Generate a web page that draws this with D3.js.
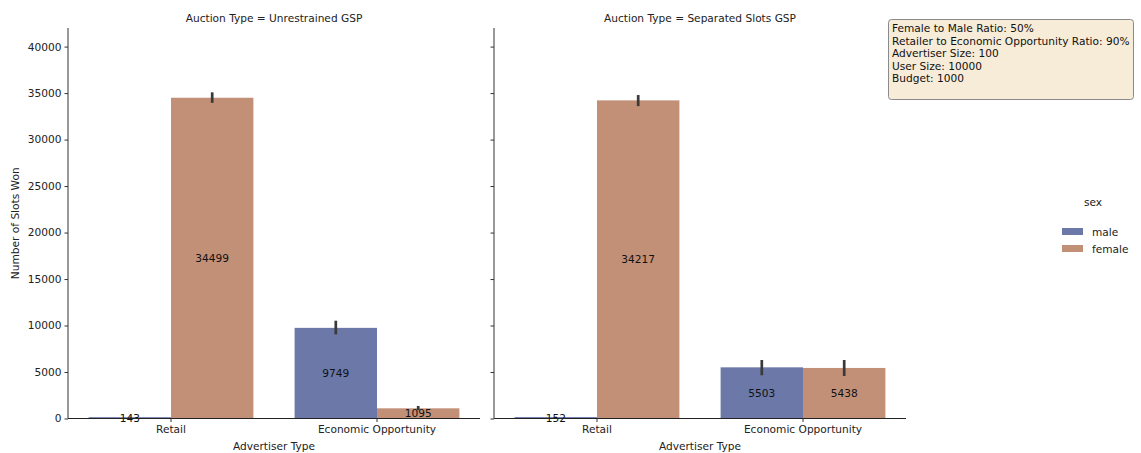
<!DOCTYPE html>
<html>
<head>
<meta charset="utf-8">
<script src="https://cdn.jsdelivr.net/npm/d3@7"></script>
<style>
  body { margin: 0; background: #fff; }
  svg { font-family: "DejaVu Sans", sans-serif; }
</style>
</head>
<body>
<svg id="chart" width="1141" height="453"></svg>
<script>
// Facets, categories and hue levels
const auctionTypes = ["Unrestrained GSP", "Separated Slots GSP"];
const advertiserTypes = ["Retail", "Economic Opportunity"];
const sexes = ["male", "female"];

// Mean slots won per facet: [Retail, Economic Opportunity] for each sex
const maleUnrestrained = [143, 9749];
const femaleUnrestrained = [34499, 1095];
const maleSeparated = [152, 5503];
const femaleSeparated = [34217, 5438];

// Confidence interval bounds [low, high]
const maleUnrestrainedCI = [[100, 190], [9050, 10520]];
const femaleUnrestrainedCI = [[33950, 35080], [900, 1350]];
const maleSeparatedCI = [[110, 195], [4650, 6290]];
const femaleSeparatedCI = [[33600, 34790], [4570, 6290]];

const yTicks = [0, 5000, 10000, 15000, 20000, 25000, 30000, 35000, 40000];
const yMax = 42000;

const infoLines = [
  "Female to Male Ratio: 50%",
  "Retailer to Economic Opportunity Ratio: 90%",
  "Advertiser Size: 100",
  "User Size: 10000",
  "Budget: 1000"
];

const colors = { male: "#6b78a8", female: "#c29077" };
const fs = 10.6;

const facetData = [
  { title: auctionTypes[0], male: maleUnrestrained, female: femaleUnrestrained,
    maleCI: maleUnrestrainedCI, femaleCI: femaleUnrestrainedCI },
  { title: auctionTypes[1], male: maleSeparated, female: femaleSeparated,
    maleCI: maleSeparatedCI, femaleCI: femaleSeparatedCI }
];

const svg = d3.select("#chart");
const panelLeft = [68, 494];
const panelWidth = 412;
const plotTop = 28, plotBottom = 418.5;

const y = d3.scaleLinear().domain([0, yMax]).range([plotBottom, plotTop]);

facetData.forEach((f, i) => {
  const g = svg.append("g").attr("transform", `translate(${panelLeft[i]},0)`);
  const x = d3.scaleBand().domain(advertiserTypes).range([0, panelWidth]).paddingInner(0).paddingOuter(0);
  const xs = d3.scaleBand().domain(sexes).range([0, x.bandwidth() * 0.8]);

  const rows = [];
  advertiserTypes.forEach((cat, ci) => {
    sexes.forEach(s => {
      rows.push({ cat, sex: s, value: f[s][ci], ci: f[s + "CI"][ci] });
    });
  });

  const barX = d => x(d.cat) + x.bandwidth() * 0.1 + xs(d.sex);

  g.selectAll("rect.bar").data(rows).join("rect")
    .attr("class", "bar")
    .attr("x", barX)
    .attr("width", xs.bandwidth())
    .attr("y", d => y(d.value))
    .attr("height", d => y(0) - y(d.value))
    .attr("fill", d => colors[d.sex]);

  g.selectAll("line.err").data(rows).join("line")
    .attr("class", "err")
    .attr("x1", d => barX(d) + xs.bandwidth() / 2)
    .attr("x2", d => barX(d) + xs.bandwidth() / 2)
    .attr("y1", d => y(d.ci[0]))
    .attr("y2", d => y(d.ci[1]))
    .attr("stroke", "#3a3a3a")
    .attr("stroke-width", 2.7);

  g.selectAll("text.val").data(rows).join("text")
    .attr("class", "val")
    .attr("x", d => barX(d) + xs.bandwidth() / 2)
    .attr("y", d => y(d.value / 2))
    .attr("dy", "0.35em")
    .attr("text-anchor", "middle")
    .attr("font-size", fs)
    .attr("fill", "#111")
    .text(d => d.value);

  // Axes
  const yAxis = d3.axisLeft(y).tickValues(yTicks).tickSize(3.5).tickPadding(3)
    .tickFormat(i === 0 ? d3.format("d") : () => "");
  const ya = g.append("g").call(yAxis);
  ya.select(".domain").attr("d", `M0,${plotTop}V${plotBottom}`).attr("stroke", "#333");
  ya.selectAll("text").attr("font-size", fs).attr("fill", "#222").attr("font-family", "DejaVu Sans");
  ya.selectAll("line").attr("stroke", "#333");

  const xAxis = d3.axisBottom(x).tickSize(3.5).tickPadding(3.5);
  const xa = g.append("g").attr("transform", `translate(0,${plotBottom})`).call(xAxis);
  xa.select(".domain").attr("d", `M0,0H${panelWidth}`).attr("stroke", "#222");
  xa.selectAll("text").attr("font-size", fs).attr("fill", "#222").attr("font-family", "DejaVu Sans");
  xa.selectAll("line").attr("stroke", "#333");

  g.append("text")
    .attr("x", panelWidth / 2).attr("y", 450)
    .attr("text-anchor", "middle").attr("font-size", fs).attr("fill", "#222")
    .text("Advertiser Type");

  g.append("text")
    .attr("x", panelWidth / 2).attr("y", 22)
    .attr("text-anchor", "middle").attr("font-size", fs).attr("fill", "#222")
    .text("Auction Type = " + f.title);
});

// Shared y label
svg.append("text")
  .attr("transform", `translate(19,${(plotTop + plotBottom) / 2}) rotate(-90)`)
  .attr("text-anchor", "middle").attr("font-size", fs).attr("fill", "#222")
  .text("Number of Slots Won");

// Legend
const legend = svg.append("g");
legend.append("text").attr("x", 1093).attr("y", 206)
  .attr("text-anchor", "middle").attr("font-size", fs).attr("fill", "#222").text("sex");
sexes.forEach((s, k) => {
  legend.append("rect").attr("x", 1062).attr("y", 228 + k * 17)
    .attr("width", 21).attr("height", 7).attr("fill", colors[s]);
  legend.append("text").attr("x", 1092).attr("y", 235.5 + k * 17)
    .attr("font-size", fs).attr("fill", "#222").text(s);
});

// Simulation parameters box
const box = svg.append("g");
box.append("rect").attr("x", 888.5).attr("y", 19.5).attr("width", 245).attr("height", 80)
  .attr("rx", 3).attr("fill", "#f7ecd8").attr("stroke", "#8a8a8a").attr("stroke-width", 1);
box.selectAll("text").data(infoLines).join("text")
  .attr("x", 892).attr("y", (d, k) => 32 + k * 12.6)
  .attr("font-size", 10.6).attr("fill", "#111").text(d => d);
</script>
</body>
</html>
